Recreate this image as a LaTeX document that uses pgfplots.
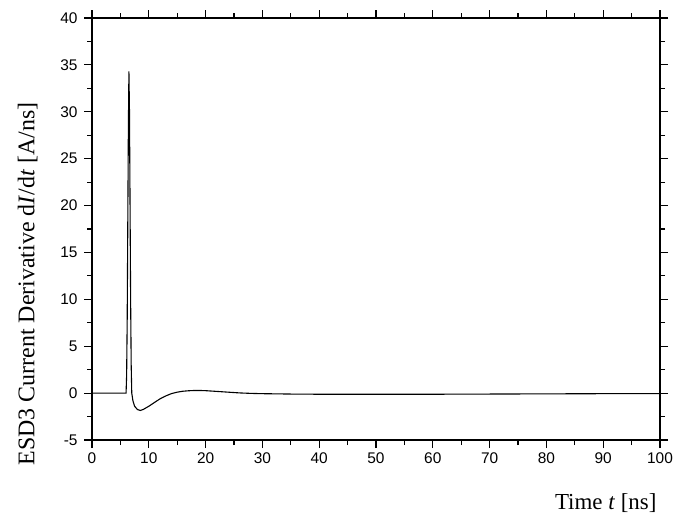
\documentclass[border=0pt]{standalone}
\usepackage{fontspec}
\setmainfont{Liberation Serif}
\newfontfamily\arial{Liberation Sans}
\usepackage{pgfplots}
\pgfplotsset{compat=1.18}
\begin{document}
\begin{tikzpicture}
\begin{axis}[
  name=ax,
  scale only axis,
  width=568bp, height=422bp,
  xmin=0, xmax=100, ymin=-5, ymax=40,
  xtick={0,10,...,100}, ytick={-5,0,...,40},
  minor x tick num=1, minor y tick num=1,
  tick align=outside,
  major tick length=8bp, minor tick length=5bp,
  every tick/.style={black, line width=1.2bp},
  axis line style={line width=1.6bp},
  tick pos=both,
  /pgf/number format/assume math mode=true,
  ticklabel style={font=\arial\fontsize{15.5}{18}\selectfont},
  xticklabel style={yshift=-1bp},
  yticklabel style={xshift=-3bp},
  xlabel={Time \textit{t} [ns]},
  xlabel style={font=\fontsize{23}{27}\selectfont, at={(axis description cs:1,0)}, anchor=north east, yshift=-50bp, xshift=0bp},
  ylabel={ESD3 Current Derivative d\textit{I}/d\textit{t} [A/ns]},
  ylabel style={font=\fontsize{24}{28}\selectfont, at={(axis description cs:-0.0898,0.37)}, anchor=south},
]
\addplot[black, line width=1.1bp] coordinates {
(0,0) (6.0,0) (6.1,2) (6.2,8) (6.3,18) (6.4,28) (6.5,34.3) (6.6,30) (6.7,20) (6.8,10) (6.9,3) (7.0,0)
(7.2,-0.8) (7.5,-1.4) (8.0,-1.75) (8.5,-1.85) (9.0,-1.75) (10,-1.4) (11,-1.0) (12,-0.6) (13,-0.3)
(14,-0.05) (15,0.1) (16,0.2) (17,0.25) (18,0.28) (19,0.28) (20,0.26) (22,0.18) (24,0.1) (26,0.02)
(28,-0.03) (30,-0.06) (35,-0.1) (40,-0.12) (50,-0.12) (60,-0.12) (70,-0.1) (80,-0.08) (90,-0.06) (100,-0.05)
};
\end{axis}
\pgfresetboundingbox
\path ([shift={(-92bp,-80bp)}]ax.south west) rectangle ([shift={(17bp,18bp)}]ax.north east);
\end{tikzpicture}
\end{document}
